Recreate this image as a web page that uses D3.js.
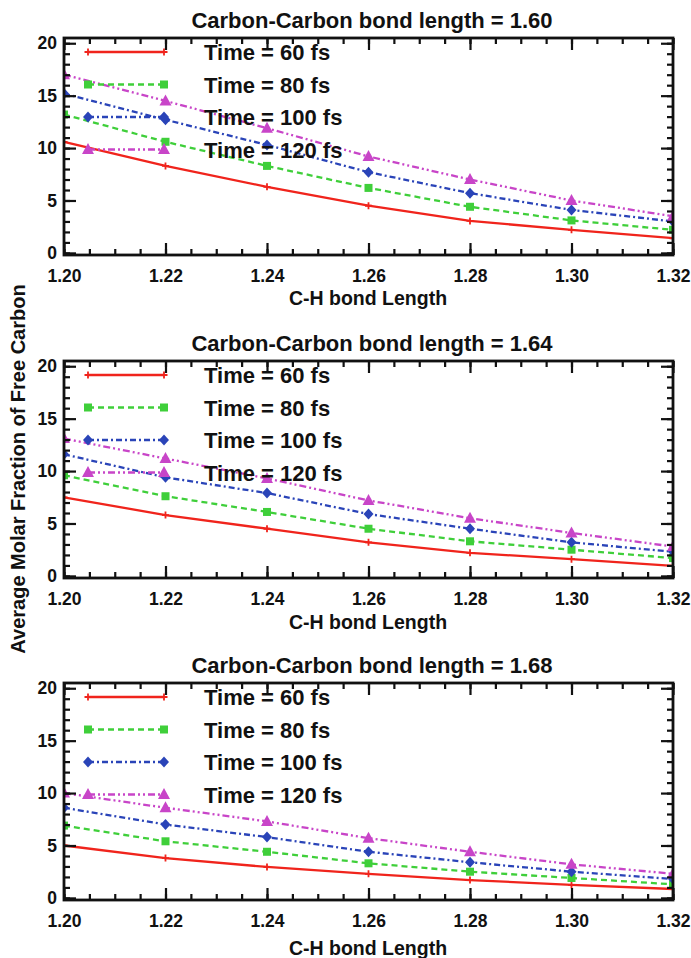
<!DOCTYPE html>
<html>
<head>
<meta charset="utf-8">
<script src="https://cdn.jsdelivr.net/npm/d3@7"></script>
<style>
  html, body { margin: 0; padding: 0; background: #fff; }
  svg { display: block; }
  text { font-family: "Liberation Sans", Arial, Helvetica, sans-serif; font-weight: bold; fill: #111; }
</style>
</head>
<body>
<svg id="chart" width="691" height="958"></svg>
<script>
// ---------------- data ----------------
const chBondLength = [1.20, 1.22, 1.24, 1.26, 1.28, 1.30, 1.32];
const xTickValues = [1.20, 1.22, 1.24, 1.26, 1.28, 1.30, 1.32];
const yTickValues = [0, 5, 10, 15, 20];
const panelTitles = [
  "Carbon-Carbon bond length = 1.60",
  "Carbon-Carbon bond length = 1.64",
  "Carbon-Carbon bond length = 1.68"
];
const seriesLabels = ["Time = 60 fs", "Time = 80 fs", "Time = 100 fs", "Time = 120 fs"];
const xAxisTitle = "C-H bond Length";
const yAxisTitle = "Average Molar Fraction of Free Carbon";

// C-C = 1.60
const cc160_60fs  = [10.6, 8.3, 6.3, 4.5, 3.05, 2.2, 1.4];
const cc160_80fs  = [13.2, 10.6, 8.3, 6.2, 4.4, 3.1, 2.2];
const cc160_100fs = [15.2, 12.7, 10.3, 7.7, 5.7, 4.1, 3.0];
const cc160_120fs = [17.0, 14.5, 11.9, 9.2, 7.0, 5.0, 3.5];
// C-C = 1.64
const cc164_60fs  = [7.5, 5.8, 4.5, 3.2, 2.2, 1.6, 0.95];
const cc164_80fs  = [9.6, 7.6, 6.1, 4.5, 3.3, 2.5, 1.7];
const cc164_100fs = [11.6, 9.4, 7.9, 5.9, 4.5, 3.2, 2.3];
const cc164_120fs = [13.1, 11.2, 9.3, 7.2, 5.5, 4.1, 2.8];
// C-C = 1.68
const cc168_60fs  = [5.0, 3.8, 2.95, 2.3, 1.7, 1.25, 0.85];
const cc168_80fs  = [6.9, 5.4, 4.4, 3.3, 2.5, 1.9, 1.3];
const cc168_100fs = [8.6, 7.0, 5.8, 4.4, 3.4, 2.5, 1.8];
const cc168_120fs = [10.0, 8.6, 7.3, 5.7, 4.4, 3.2, 2.3];

const panelData = [
  [cc160_60fs, cc160_80fs, cc160_100fs, cc160_120fs],
  [cc164_60fs, cc164_80fs, cc164_100fs, cc164_120fs],
  [cc168_60fs, cc168_80fs, cc168_100fs, cc168_120fs]
];

// ---------------- styles ----------------
const seriesColors = ["#f0241c", "#3fcf3a", "#2a44b8", "#c845c8"];
const seriesDash = ["none", "6,4", "6,3,2,3", "7,3,2,3,2,3"];
const seriesMarker = ["plus", "square", "diamond", "triangle"];

const svg = d3.select("#chart");

const plotLeft = 64, plotRight = 673;
const panelTops = [38, 361, 683];
const plotH = 217;
const xTitleY = [305, 629, 955];

function drawMarker(g, type, x, y, color) {
  if (type === "plus") {
    g.append("path")
      .attr("d", `M${x-3.5},${y}H${x+3.5}M${x},${y-3.5}V${y+3.5}`)
      .attr("stroke", color).attr("stroke-width", 1.8).attr("fill", "none");
  } else if (type === "square") {
    g.append("rect").attr("x", x-4).attr("y", y-4).attr("width", 8).attr("height", 8)
      .attr("fill", color);
  } else if (type === "diamond") {
    g.append("path").attr("d", `M${x},${y-5.5}L${x+5},${y}L${x},${y+5.5}L${x-5},${y}Z`)
      .attr("fill", color);
  } else if (type === "triangle") {
    g.append("path").attr("d", `M${x},${y-6.5}L${x+6},${y+4.5}L${x-6},${y+4.5}Z`)
      .attr("fill", color);
  }
}

panelTops.forEach((top, pi) => {
  const x = d3.scaleLinear().domain([1.20, 1.32]).range([plotLeft, plotRight]);
  const y = d3.scaleLinear().domain([-0.2, 20.5]).range([top + plotH, top]);
  const g = svg.append("g");

  // title
  g.append("text")
    .attr("x", 372).attr("y", top - 10)
    .attr("text-anchor", "middle")
    .attr("font-size", 22)
    .text(panelTitles[pi]);

  // series
  const clipId = "clip" + pi;
  svg.append("clipPath").attr("id", clipId)
    .append("rect").attr("x", plotLeft - 1).attr("y", top).attr("width", plotRight - plotLeft + 2).attr("height", plotH);
  const plotG = g.append("g").attr("clip-path", `url(#${clipId})`);

  const line = d3.line().x((d, i) => x(chBondLength[i])).y(d => y(d));
  panelData[pi].forEach((vals, si) => {
    plotG.append("path")
      .datum(vals)
      .attr("d", line)
      .attr("fill", "none")
      .attr("stroke", seriesColors[si])
      .attr("stroke-width", 2.3)
      .attr("stroke-dasharray", seriesDash[si]);
    vals.forEach((v, i) => drawMarker(plotG, seriesMarker[si], x(chBondLength[i]), y(v), seriesColors[si]));
  });

  // legend
  const legX0 = 88, legX1 = 164, legTextX = 204;
  seriesLabels.forEach((lab, si) => {
    const ly = top + 14 + si * 32.5;
    g.append("line")
      .attr("x1", legX0).attr("x2", legX1).attr("y1", ly).attr("y2", ly)
      .attr("stroke", seriesColors[si]).attr("stroke-width", 2.3)
      .attr("stroke-dasharray", seriesDash[si]);
    drawMarker(g, seriesMarker[si], legX0, ly, seriesColors[si]);
    drawMarker(g, seriesMarker[si], legX1, ly, seriesColors[si]);
    g.append("text")
      .attr("x", legTextX).attr("y", ly + 8)
      .attr("font-size", 22)
      .text(lab);
  });

  // axes: ticks drawn inward on all four sides
  const xMinor = d3.range(1.20, 1.3201, 0.005);
  const yMinor = d3.range(0, 20.01, 1);
  const bottom = top + plotH;

  g.append("g").attr("transform", `translate(0,${bottom})`)
    .call(d3.axisBottom(x).tickValues(xTickValues).tickSize(-12).tickPadding(15).tickFormat(d3.format(".2f")));
  g.append("g").attr("transform", `translate(0,${bottom})`)
    .call(d3.axisBottom(x).tickValues(xMinor).tickSize(-6).tickFormat(""));
  g.append("g").attr("transform", `translate(0,${top})`)
    .call(d3.axisTop(x).tickValues(xTickValues).tickSize(-12).tickFormat(""));
  g.append("g").attr("transform", `translate(0,${top})`)
    .call(d3.axisTop(x).tickValues(xMinor).tickSize(-6).tickFormat(""));

  g.append("g").attr("transform", `translate(${plotLeft},0)`)
    .call(d3.axisLeft(y).tickValues(yTickValues).tickSize(-12).tickPadding(7).tickFormat(d3.format("d")));
  g.append("g").attr("transform", `translate(${plotLeft},0)`)
    .call(d3.axisLeft(y).tickValues(yMinor).tickSize(-6).tickFormat(""));
  g.append("g").attr("transform", `translate(${plotRight},0)`)
    .call(d3.axisRight(y).tickValues(yTickValues).tickSize(-12).tickFormat(""));
  g.append("g").attr("transform", `translate(${plotRight},0)`)
    .call(d3.axisRight(y).tickValues(yMinor).tickSize(-6).tickFormat(""));

  g.selectAll(".domain").remove();
  g.selectAll(".tick line").attr("stroke", "#111").attr("stroke-width", 2.2);
  g.selectAll(".tick text").attr("font-size", 17.5).attr("font-family", "Liberation Sans, Arial, sans-serif").attr("font-weight", "bold").attr("fill", "#111");

  // frame
  g.append("rect")
    .attr("x", plotLeft).attr("y", top).attr("width", plotRight - plotLeft).attr("height", plotH)
    .attr("fill", "none").attr("stroke", "#111").attr("stroke-width", 2.8);

  // x axis title
  g.append("text")
    .attr("x", 368).attr("y", xTitleY[pi])
    .attr("text-anchor", "middle")
    .attr("font-size", 19.5)
    .text(xAxisTitle);
});

// y axis title
svg.append("text")
  .attr("transform", "translate(25,469) rotate(-90)")
  .attr("text-anchor", "middle")
  .attr("font-size", 20)
  .text(yAxisTitle);
</script>
</body>
</html>
